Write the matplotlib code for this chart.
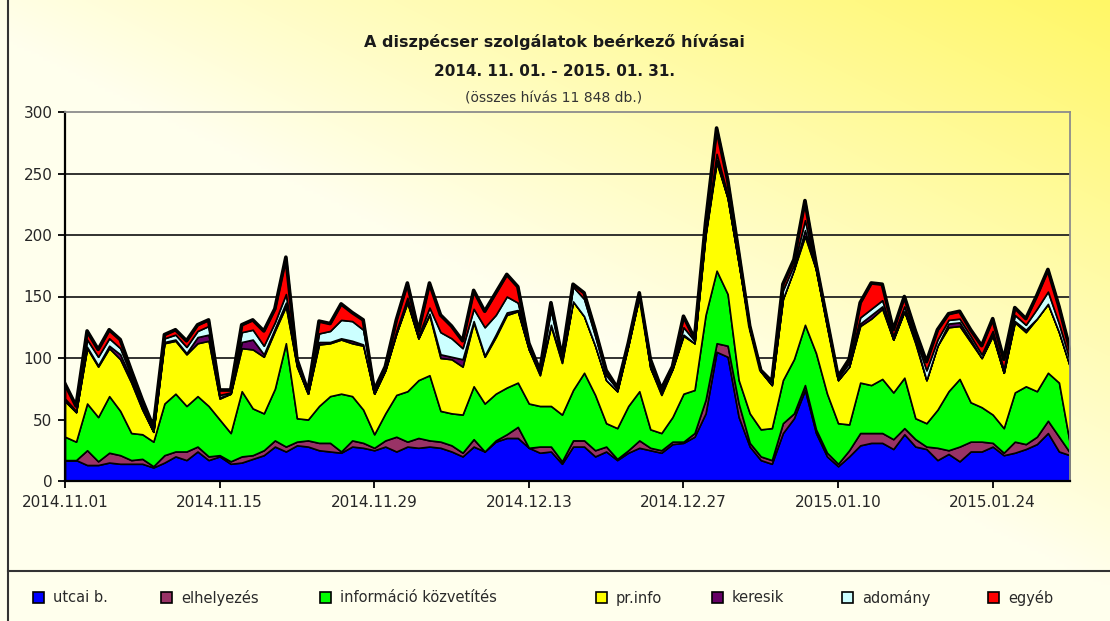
import matplotlib
matplotlib.use('Agg')
from matplotlib import pyplot as plt
from matplotlib.patches import Rectangle
from matplotlib.lines import Line2D
import numpy as np


TITLE = 'A diszpécser szolgálatok beérkező hívásai'
SUBTITLE = '2014. 11. 01. - 2015. 01. 31.'
NOTE = '(összes hívás 11 848 db.)'

TICK_DAYS = [0, 14, 28, 42, 56, 70, 84]
TICK_LABELS = ['2014.11.01', '2014.11.15', '2014.11.29', '2014.12.13',
               '2014.12.27', '2015.01.10', '2015.01.24']

NAMES = ['utcai b.', 'elhelyezés', 'információ közvetítés', 'pr.info',
         'keresik', 'adomány', 'egyéb']
COLORS = ['#0000FF', '#993366', '#00FF00', '#FFFF00', '#660066', '#CCFFFF', '#FF0000']

# daily values, 2014.11.01 .. 2015.01.31 (92 days)
utcai = [17, 17, 13, 13, 15, 14, 14, 14, 11, 15,
         20, 17, 24, 17, 20, 14, 15, 18, 21, 28,
         24, 29, 28, 25, 24, 23, 28, 27, 25, 28,
         24, 28, 27, 28, 27, 24, 20, 28, 24, 32,
         35, 35, 27, 23, 24, 14, 28, 28, 20, 24,
         17, 23, 27, 25, 23, 30, 31, 36, 55, 105,
         101, 52, 28, 17, 14, 39, 51, 74, 39, 20,
         12, 20, 29, 31, 31, 26, 38, 28, 26, 17,
         22, 16, 24, 24, 28, 21, 23, 26, 30, 39,
         24, 21]
elhelyezes = [0, 0, 12, 3, 8, 7, 3, 4, 1, 6,
              4, 7, 4, 3, 1, 2, 5, 3, 4, 5,
              4, 3, 5, 6, 7, 1, 5, 4, 2, 5,
              12, 4, 8, 5, 5, 5, 3, 6, 0, 1,
              3, 9, 0, 5, 4, 2, 5, 5, 5, 4,
              1, 2, 6, 2, 2, 2, 1, 3, 11, 7,
              9, 11, 3, 3, 3, 8, 4, 4, 3, 3,
              2, 5, 10, 8, 8, 8, 5, 6, 2, 10,
              3, 12, 8, 8, 3, 2, 9, 4, 6, 10,
              12, 2]
informacio = [19, 15, 38, 36, 46, 36, 22, 20, 20, 42,
              47, 37, 41, 41, 29, 23, 53, 38, 30, 42,
              84, 19, 17, 30, 38, 47, 36, 27, 11, 22,
              34, 41, 47, 53, 25, 26, 31, 43, 39, 38,
              38, 36, 36, 33, 33, 38, 41, 55, 45, 19,
              25, 36, 40, 15, 14, 20, 39, 35, 69, 59,
              42, 19, 24, 22, 26, 35, 44, 49, 62, 48,
              33, 21, 41, 39, 44, 38, 41, 17, 19, 31,
              48, 55, 32, 28, 23, 20, 40, 47, 37, 39,
              44, 7]
prinfo = [29, 24, 45, 41, 39, 42, 41, 20, 8, 49,
          43, 42, 43, 53, 17, 32, 35, 48, 46, 47,
          30, 42, 21, 50, 43, 44, 43, 52, 33, 35,
          50, 72, 34, 49, 43, 44, 39, 52, 38, 46,
          59, 58, 44, 25, 65, 42, 72, 46, 40, 35,
          30, 49, 77, 50, 31, 39, 47, 38, 65, 88,
          78, 95, 68, 47, 35, 66, 73, 72, 68, 55,
          35, 47, 46, 54, 57, 43, 54, 61, 35, 52,
          52, 43, 49, 40, 64, 45, 57, 44, 59, 56,
          41, 63]
keresik = [0, 0, 1, 1, 2, 4, 3, 1, 0, 1,
           1, 1, 5, 5, 1, 0, 5, 8, 2, 2,
           3, 1, 0, 2, 1, 1, 2, 1, 0, 0,
           0, 1, 0, 1, 3, 2, 6, 1, 1, 2,
           2, 1, 0, 2, 1, 2, 0, 0, 0, 0,
           0, 0, 0, 0, 2, 0, 1, 0, 1, 2,
           0, 0, 0, 0, 0, 0, 0, 5, 0, 0,
           0, 0, 2, 3, 2, 0, 0, 2, 0, 0,
           3, 3, 2, 0, 1, 0, 1, 2, 0, 0,
           0, 0]
adomany = [2, 1, 6, 7, 6, 5, 3, 3, 1, 3,
           4, 5, 5, 7, 2, 1, 8, 8, 7, 5,
           7, 2, 1, 7, 9, 15, 16, 12, 3, 1,
           2, 3, 2, 5, 18, 15, 9, 10, 23, 16,
           13, 6, 2, 1, 12, 2, 12, 14, 8, 4,
           2, 1, 1, 3, 2, 0, 6, 2, 3, 5,
           3, 2, 0, 1, 3, 7, 4, 8, 0, 2,
           2, 3, 5, 5, 5, 3, 4, 3, 8, 5,
           3, 3, 3, 3, 3, 3, 5, 4, 8, 10,
           7, 5]
egyeb = [12, 4, 7, 6, 7, 7, 4, 4, 3, 3,
         4, 5, 5, 5, 4, 2, 6, 8, 12, 11,
         30, 3, 1, 10, 6, 13, 7, 8, 0, 2,
         9, 12, 4, 20, 14, 10, 6, 15, 13, 18,
         18, 13, 3, 1, 6, 1, 2, 5, 5, 4,
         1, 1, 2, 4, 1, 2, 9, 2, 6, 21,
         12, 7, 3, 0, 0, 5, 4, 16, 5, 3,
         1, 3, 12, 21, 13, 5, 8, 5, 7, 8,
         5, 6, 5, 7, 10, 8, 6, 5, 11, 18,
         14, 9]

W, H = 1110, 621


def fx(px):
    return px / W


def fy(py):
    return 1 - py / H


def main():
    series = [utcai, elhelyezes, informacio, prinfo, keresik, adomany, egyeb]
    days = np.arange(len(utcai))
    total = np.sum(np.array(series), axis=0)

    fig = plt.figure(figsize=(W / 100, H / 100), dpi=100)

    # background gradient: pale cream bottom-left -> yellow top-right
    bg = fig.add_axes([0, 0, 1, 1], zorder=-5)
    gx, gy = np.meshgrid(np.linspace(0, 1, 300), np.linspace(1, 0, 200))
    t = np.clip(gx * 0.8 + gy * 0.9 - 0.85, 0, 1) / 0.85
    t = np.clip(t, 0, 1)
    cream = np.array([1.0, 1.0, 0.93])
    yellow = np.array([1.0, 0.97, 0.40])
    img = cream[None, None, :] * (1 - t[..., None]) + yellow[None, None, :] * t[..., None]
    bg.imshow(img, aspect='auto', extent=[0, 1, 0, 1], interpolation='bilinear')
    bg.set_axis_off()

    ax = fig.add_axes([fx(65), fy(481), fx(1070 - 65), fy(112) - fy(481)])
    ax.set_facecolor('none')
    ax.stackplot(days, *series, colors=COLORS, edgecolor='black', linewidth=1.2)
    ax.plot(days, total, color='black', linewidth=2.6, solid_joinstyle='round')

    ax.set_xlim(0, len(days) - 1)
    ax.set_ylim(0, 300)
    ax.set_yticks(range(0, 301, 50))
    ax.set_xticks(TICK_DAYS)
    ax.set_xticklabels(TICK_LABELS)
    for y in range(50, 300, 50):
        ax.axhline(y, color='#222222', linewidth=1.3, zorder=0)
    ax.tick_params(axis='both', direction='out', length=5, width=1.3,
                   colors='black', labelsize=11, labelcolor='#262626')
    ax.tick_params(axis='x', pad=5)
    ax.tick_params(axis='y', pad=4)
    ax.spines['left'].set_linewidth(1.6)
    ax.spines['bottom'].set_linewidth(1.6)
    for s in ['top', 'right']:
        ax.spines[s].set_color('#8c8c8c')
        ax.spines[s].set_linewidth(1.3)

    fig.text(fx(554), fy(42), TITLE, ha='center', va='center',
             fontsize=11.5, fontweight='bold', color='#1a1a1a')
    fig.text(fx(554), fy(72), SUBTITLE, ha='center', va='center',
             fontsize=11, fontweight='bold', color='#1a1a1a')
    fig.text(fx(554), fy(99), NOTE, ha='center', va='center',
             fontsize=10, color='#333333')

    # outer frame pieces
    fig.add_artist(Line2D([fx(8), fx(8)], [0, 1], color='#333333', linewidth=1.5))
    fig.add_artist(Line2D([fx(8), 1], [fy(571), fy(571)], color='#333333', linewidth=1.5))

    # legend
    sq_x = [33, 161, 320, 596, 712, 842, 988]
    for x0, name, col in zip(sq_x, NAMES, COLORS):
        fig.add_artist(Rectangle((fx(x0), fy(603)), fx(11), fy(592) - fy(603),
                                 facecolor=col, edgecolor='black', linewidth=1.2))
        fig.text(fx(x0 + 20), fy(598), name, ha='left', va='center',
                 fontsize=10.5, color='#2a2a2a')

    fig.savefig('out.png', dpi=100)


if __name__ == '__main__':
    main()
